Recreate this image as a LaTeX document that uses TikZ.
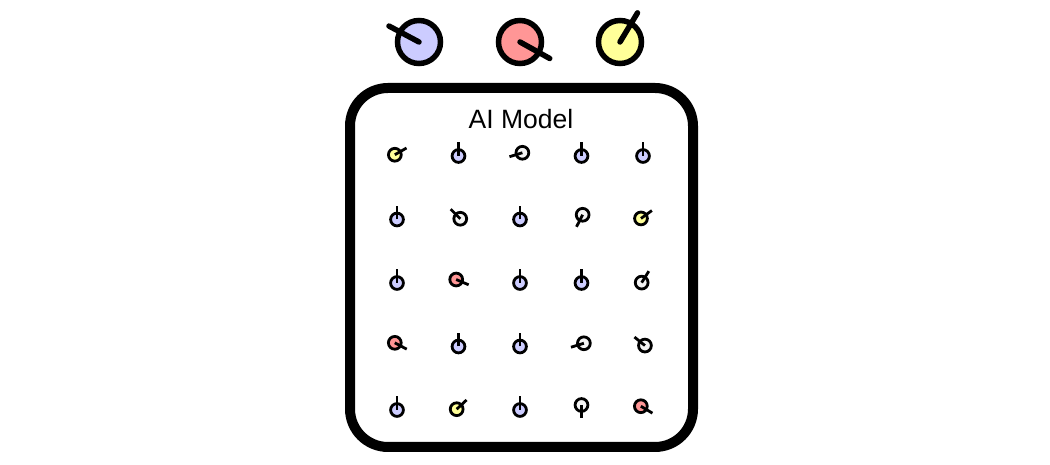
\documentclass[tikz,border=0pt]{standalone}
\usepackage{fontspec}
\setmainfont{Liberation Sans}
\usetikzlibrary{positioning}
\definecolor{knobblue}{RGB}{204, 204, 255}
\definecolor{knobred}{RGB}{255, 150, 150}
\definecolor{knobyellow}{RGB}{255, 255, 153}
\definecolor{knobgray}{RGB}{244, 244, 244}

\begin{document}
\begin{tikzpicture}[x=1pt, y=1pt,
  bigknob/.style={circle, draw, line width=5.5pt, minimum size=43pt, inner sep=0pt},
  smallknob/.style={circle, draw, line width=2.8pt, minimum size=12.8pt, inner sep=0pt}]
 \useasboundingbox (0, 0) rectangle (1050, 465);
 % knobs on top
 \foreach \n/\x/\c/\a in {blue/419/knobblue/152, red/520/knobred/-29, yellow/620/knobyellow/59} {
   \node[bigknob, fill=\c] (top\n) at (\x, 423) {};
   \draw[line width=5.5pt, line cap=round] (top\n.center) -- ++(\a:34);
 }
 % the model
 \draw[line width=10pt, rounded corners=38pt] (350, 18) rectangle (693, 377);
 \node (title) at (521, 346) {\fontsize{26.5}{30}\selectfont AI Model};
 % small knobs inside
 \foreach \r/\c/\col/\a in {
   1/1/knobyellow/30, 1/2/knobblue/90, 1/3/knobgray/197, 1/4/knobblue/90, 1/5/knobblue/90,
   2/1/knobblue/90, 2/2/knobgray/135, 2/3/knobblue/90, 2/4/knobgray/243, 2/5/knobyellow/36,
   3/1/knobblue/90, 3/2/knobred/-23, 3/3/knobblue/90, 3/4/knobblue/90, 3/5/knobgray/58,
   4/1/knobred/-28, 4/2/knobblue/90, 4/3/knobblue/90, 4/4/knobgray/197, 4/5/knobgray/141,
   5/1/knobblue/90, 5/2/knobyellow/43, 5/3/knobblue/90, 5/4/knobgray/270, 5/5/knobred/-31} {
   \pgfmathsetmacro\kx{397+61.5*(\c-1)-2.5*cos(\a)}
   \pgfmathsetmacro\ky{311.5-63.5*(\r-1)-2.5*sin(\a)}
   \node[smallknob, fill=\col] (k\r\c) at (\kx, \ky) {};
   \draw[line width=2.8pt] (k\r\c.center) -- ++(\a:13.5);
 }
\end{tikzpicture}
\end{document}
